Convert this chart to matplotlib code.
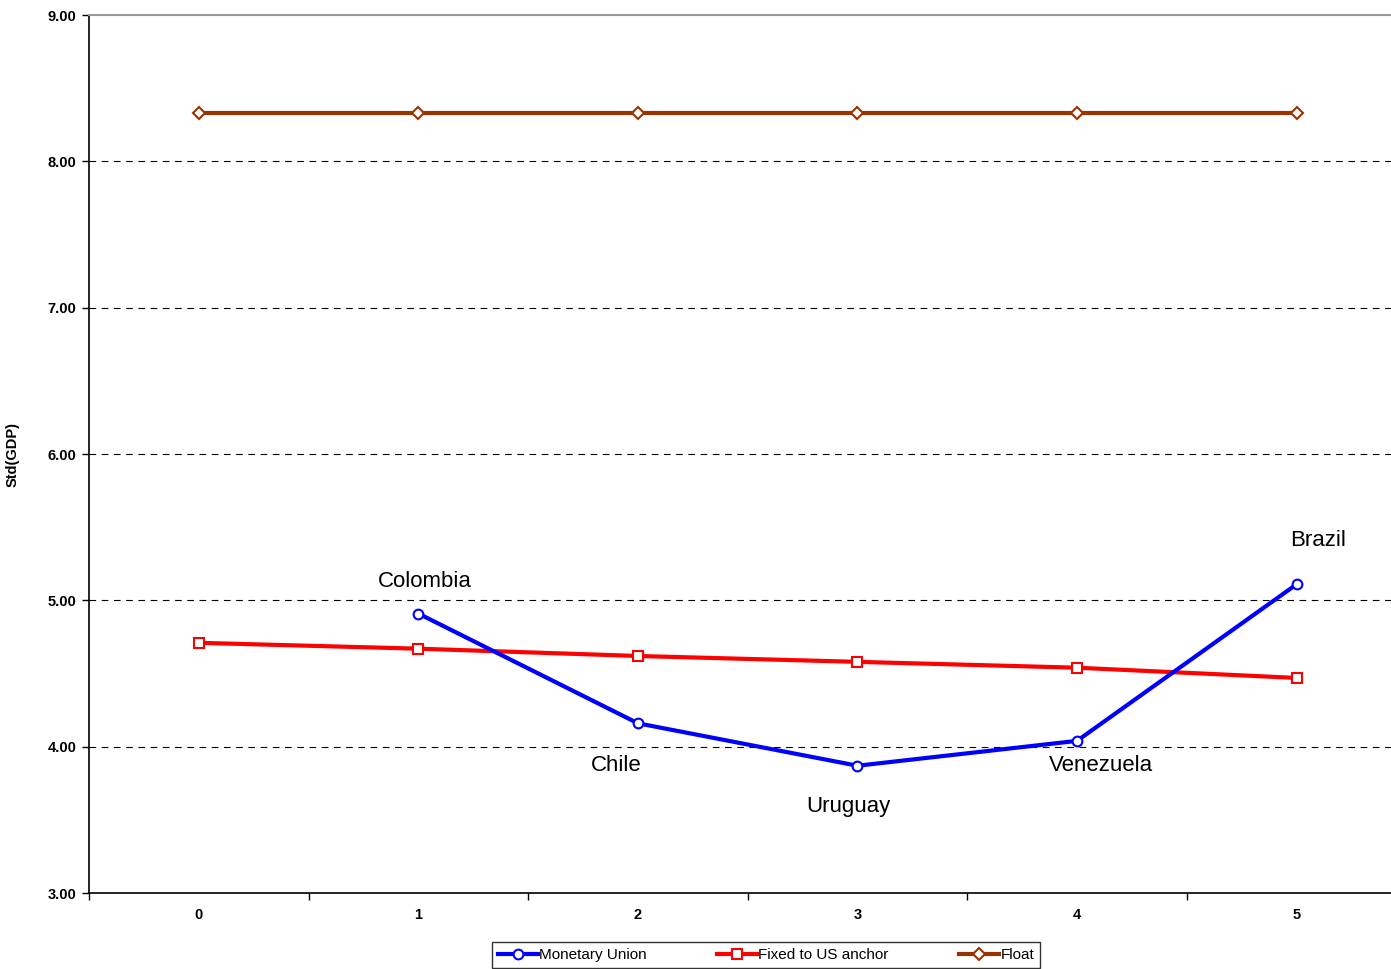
import matplotlib
matplotlib.use("Agg")
import matplotlib.pyplot as plt
from matplotlib.ticker import FixedLocator, NullFormatter

plt.rcParams["font.family"] = ["Liberation Sans", "DejaVu Sans"]

categories = [0, 1, 2, 3, 4, 5]
monetary_union = [None, 4.91, 4.16, 3.87, 4.04, 5.11]
fixed_us = [4.71, 4.67, 4.62, 4.58, 4.54, 4.47]
float_regime = [8.33, 8.33, 8.33, 8.33, 8.33, 8.33]
country_labels = ["Colombia", "Chile", "Uruguay", "Venezuela", "Brazil"]
label_points = [(1.03, 5.13), (1.90, 3.87), (2.96, 3.59), (4.11, 3.87), (5.10, 5.41)]

fig = plt.figure(figsize=(13.91, 9.69), dpi=100)
ax = fig.add_axes([0.064, 0.0784, 0.936, 0.906])

mu_x = [c for c, v in zip(categories, monetary_union) if v is not None]
mu_y = [v for v in monetary_union if v is not None]

ax.plot(mu_x, mu_y, color="#0000ff", lw=3, marker="o", ms=7,
        mfc="white", mec="#0000ff", mew=1.5, label="Monetary Union", zorder=4)
ax.plot(categories, fixed_us, color="#ff0000", lw=3, marker="s", ms=7,
        mfc="white", mec="#ff0000", mew=1.5, label="Fixed to US anchor", zorder=3)
ax.plot(categories, float_regime, color="#993300", lw=3, marker="D", ms=6,
        mfc="white", mec="#993300", mew=1.5, label="Float", zorder=3)

for name, (x, y) in zip(country_labels, label_points):
    ax.text(x, y, name, fontsize=16, ha="center", va="center", color="black")

ax.set_xlim(-0.5, 5.43)
ax.set_ylim(3, 9)
ax.set_yticks([3, 4, 5, 6, 7, 8, 9])
ax.set_yticklabels([f"{v:.2f}" for v in [3, 4, 5, 6, 7, 8, 9]],
                   fontsize=10.5, fontweight="bold")
ax.set_xticks(categories)
ax.set_xticklabels([str(c) for c in categories], fontsize=10.5, fontweight="bold")
ax.tick_params(axis="x", which="major", length=0, pad=11)
ax.xaxis.set_minor_locator(FixedLocator([-0.5, 0.5, 1.5, 2.5, 3.5, 4.5]))
ax.xaxis.set_minor_formatter(NullFormatter())
ax.tick_params(axis="x", which="minor", length=5, direction="out", width=1)
ax.tick_params(axis="y", length=5, direction="out", width=1, pad=4)

for v in [4, 5, 6, 7, 8]:
    ax.axhline(v, color="black", lw=0.8, ls=(0, (6, 5)), zorder=1)

ax.spines["top"].set_color("#999999")
ax.spines["top"].set_linewidth(1.5)
ax.spines["right"].set_visible(False)
ax.spines["left"].set_linewidth(1.2)
ax.spines["bottom"].set_linewidth(1.2)

ax.set_ylabel("Std(GDP)", fontsize=10.5, fontweight="bold")
ax.yaxis.set_label_coords(-0.053, 0.5)

leg = ax.legend(loc="center", bbox_to_anchor=(0.52, -0.0706), ncol=3,
                fontsize=11, frameon=True, fancybox=False, edgecolor="black",
                handlelength=2.6, handletextpad=0.1, columnspacing=4.6,
                borderpad=0.4)
leg.get_frame().set_linewidth(1.0)

fig.savefig("out.png", dpi=100)
